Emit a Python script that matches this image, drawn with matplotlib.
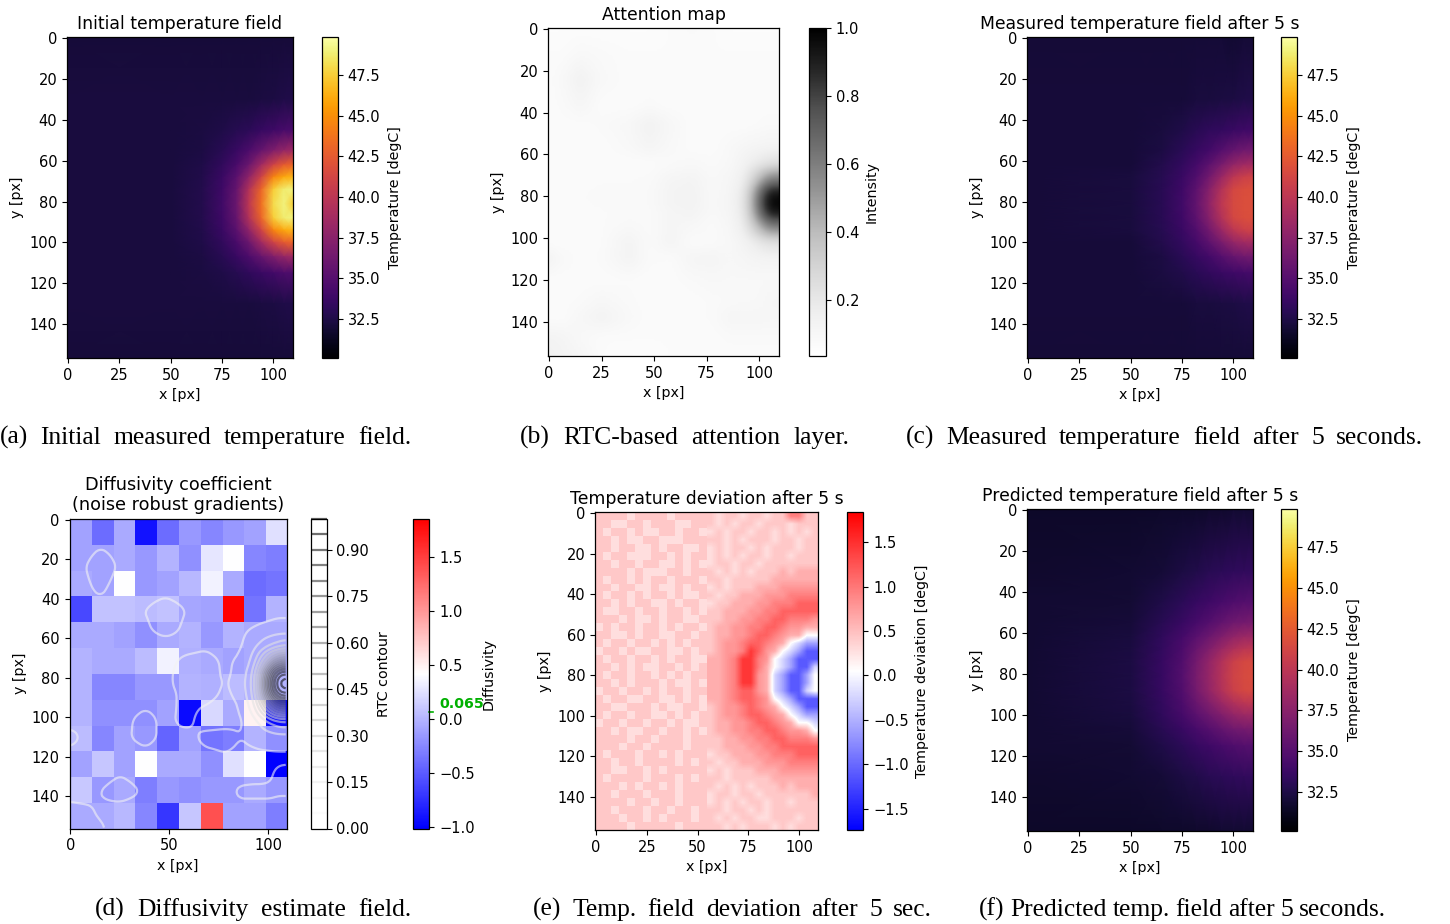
import matplotlib

matplotlib.use("Agg")
import matplotlib.pyplot as plt
import numpy as np

WIDTH = 1450
HEIGHT = 924

# grid nodes (image pixels) shared by the three temperature fields
temp_x = [-0.5, 50, 65, 75, 82, 88, 94, 100, 105, 109.5]
temp_y = [-0.5, 30, 45, 55, 62, 68, 74, 81, 88, 94, 100, 107, 115, 130, 156.5]

initial_temp = [
    [32.1, 32.1, 32.1, 32.1, 32.1, 32.1, 32.1, 32.1, 32.1, 32.1],
    [32.2, 32.2, 32.2, 32.2, 32.2, 32.2, 32.3, 32.4, 32.5, 32.5],
    [32.2, 32.2, 32.3, 32.5, 32.8, 33.1, 33.5, 33.9, 34.3, 34.4],
    [32.2, 32.2, 32.4, 32.9, 33.6, 34.5, 35.8, 37.0, 38.0, 38.5],
    [32.2, 32.2, 32.5, 33.3, 34.4, 36.0, 38.6, 41.0, 42.5, 43.0],
    [32.2, 32.2, 32.6, 33.7, 35.2, 37.8, 41.0, 44.5, 46.0, 46.5],
    [32.2, 32.2, 32.7, 33.9, 35.8, 39.5, 43.0, 47.5, 48.8, 49.0],
    [32.2, 32.2, 32.7, 34.0, 36.0, 40.0, 43.5, 48.0, 49.0, 47.5],
    [32.2, 32.2, 32.7, 33.9, 35.8, 39.5, 43.0, 47.5, 48.8, 49.0],
    [32.2, 32.2, 32.6, 33.7, 35.2, 37.8, 41.0, 44.5, 46.0, 46.5],
    [32.2, 32.2, 32.5, 33.3, 34.4, 36.0, 38.6, 41.0, 42.5, 43.0],
    [32.2, 32.2, 32.4, 32.9, 33.6, 34.5, 35.8, 37.0, 38.0, 38.5],
    [32.2, 32.2, 32.3, 32.5, 32.8, 33.2, 33.7, 34.1, 34.5, 34.6],
    [32.2, 32.2, 32.2, 32.2, 32.2, 32.2, 32.3, 32.4, 32.5, 32.5],
    [32.1, 32.1, 32.1, 32.1, 32.1, 32.1, 32.1, 32.1, 32.1, 32.1],
]

measured_temp = [
    [32.0, 32.0, 32.0, 32.0, 32.0, 32.0, 32.0, 31.8, 32.0, 32.0],
    [32.1, 32.1, 32.1, 32.1, 32.2, 32.2, 32.3, 32.4, 32.5, 32.5],
    [32.1, 32.1, 32.2, 32.5, 32.9, 33.2, 33.4, 33.7, 33.9, 34.0],
    [32.1, 32.1, 32.4, 33.0, 33.5, 34.1, 34.9, 35.8, 36.2, 36.4],
    [32.1, 32.1, 32.7, 33.4, 34.2, 35.3, 36.6, 38.0, 38.6, 38.8],
    [32.1, 32.2, 32.8, 33.7, 34.8, 36.3, 38.2, 40.0, 40.8, 41.0],
    [32.1, 32.2, 32.9, 33.9, 35.4, 37.2, 39.5, 41.3, 41.7, 41.8],
    [32.1, 32.2, 32.9, 34.0, 35.6, 37.7, 40.0, 41.5, 41.8, 41.8],
    [32.1, 32.2, 32.9, 33.9, 35.4, 37.2, 39.5, 41.3, 41.7, 41.8],
    [32.1, 32.2, 32.8, 33.7, 34.8, 36.3, 38.2, 40.0, 40.8, 41.0],
    [32.1, 32.1, 32.7, 33.4, 34.2, 35.3, 36.6, 38.0, 38.6, 38.8],
    [32.1, 32.1, 32.4, 33.0, 33.5, 34.1, 34.9, 35.8, 36.2, 36.4],
    [32.1, 32.1, 32.3, 32.6, 33.0, 33.3, 33.6, 33.9, 34.1, 34.2],
    [32.1, 32.1, 32.1, 32.1, 32.2, 32.2, 32.3, 32.4, 32.5, 32.5],
    [32.0, 32.0, 32.0, 32.0, 32.0, 32.0, 32.0, 32.0, 32.0, 32.0],
]

predicted_temp = [
    [31.5, 31.5, 31.6, 31.6, 31.6, 31.7, 31.7, 31.8, 31.8, 31.8],
    [31.7, 31.8, 32.0, 32.4, 32.6, 32.9, 33.1, 33.2, 33.3, 33.3],
    [31.8, 31.9, 32.5, 33.1, 33.5, 33.9, 34.3, 34.7, 34.9, 35.0],
    [31.8, 32.1, 32.9, 33.6, 34.3, 34.9, 35.6, 36.2, 36.5, 36.6],
    [31.8, 32.2, 33.2, 34.2, 35.2, 36.1, 37.0, 37.9, 38.4, 38.5],
    [31.8, 32.3, 33.4, 34.5, 35.9, 37.1, 38.3, 39.4, 40.0, 40.2],
    [31.8, 32.4, 33.5, 34.8, 36.5, 37.9, 39.4, 40.8, 41.4, 41.5],
    [31.8, 32.4, 33.5, 34.9, 36.7, 38.1, 39.6, 41.0, 41.5, 41.6],
    [31.8, 32.4, 33.5, 34.8, 36.5, 37.9, 39.4, 40.8, 41.4, 41.5],
    [31.8, 32.3, 33.4, 34.5, 35.9, 37.1, 38.3, 39.4, 40.0, 40.2],
    [31.8, 32.2, 33.2, 34.2, 35.2, 36.1, 37.0, 37.9, 38.4, 38.5],
    [31.8, 32.1, 32.9, 33.6, 34.3, 34.9, 35.6, 36.2, 36.5, 36.6],
    [31.8, 31.9, 32.5, 33.1, 33.5, 33.9, 34.3, 34.7, 34.9, 35.0],
    [31.7, 31.8, 32.0, 32.4, 32.6, 32.9, 33.1, 33.2, 33.3, 33.3],
    [31.5, 31.5, 31.6, 31.6, 31.7, 31.7, 31.8, 31.8, 31.8, 31.8],
]

# attention / RTC field
rtc_x = [-0.5, 6, 15, 25, 38, 48, 58, 68, 78, 86, 92, 97, 101, 105, 109.5]
rtc_y = [-0.5, 12, 24, 36, 46, 56, 64, 72, 78, 83, 88, 94, 102, 110, 120, 130, 138, 148, 156.5]
rtc = [
    [.06, .06, .06, .06, .06, .06, .07, .08, .07, .06, .06, .06, .06, .06, .06],
    [.07, .07, .09, .08, .07, .07, .07, .07, .07, .07, .07, .07, .07, .07, .07],
    [.07, .09, .14, .09, .07, .07, .07, .07, .07, .07, .07, .07, .07, .07, .07],
    [.07, .08, .11, .07, .07, .08, .07, .07, .07, .07, .07, .07, .07, .07, .07],
    [.07, .07, .07, .08, .10, .14, .10, .07, .07, .07, .07, .075, .08, .085, .085],
    [.07, .07, .07, .07, .09, .12, .09, .07, .07, .09, .105, .115, .12, .125, .125],
    [.07, .07, .07, .07, .07, .07, .08, .09, .08, .095, .13, .17, .20, .23, .25],
    [.07, .07, .07, .075, .075, .08, .115, .125, .09, .11, .16, .30, .45, .58, .62],
    [.07, .07, .075, .08, .08, .085, .125, .135, .09, .115, .19, .42, .68, .88, .92],
    [.07, .07, .075, .08, .08, .085, .125, .135, .095, .12, .20, .45, .75, .95, 1.0],
    [.07, .07, .07, .075, .08, .08, .115, .125, .09, .115, .19, .42, .68, .88, .92],
    [.07, .07, .07, .075, .09, .08, .115, .10, .08, .105, .17, .32, .47, .60, .63],
    [.07, .07, .07, .075, .125, .08, .12, .075, .08, .095, .125, .17, .21, .24, .25],
    [.13, .09, .07, .08, .125, .08, .075, .115, .12, .10, .11, .12, .125, .13, .13],
    [.07, .07, .07, .07, .075, .07, .07, .085, .095, .09, .09, .09, .09, .09, .09],
    [.07, .07, .08, .10, .08, .07, .07, .07, .08, .085, .09, .09, .095, .11, .115],
    [.07, .07, .10, .13, .09, .07, .07, .07, .08, .11, .11, .11, .11, .105, .105],
    [.13, .12, .09, .07, .07, .07, .07, .07, .07, .08, .08, .08, .08, .08, .08],
    [.14, .13, .11, .07, .06, .06, .07, .07, .07, .07, .07, .07, .07, .07, .07],
]

# diffusivity blocks, 12 rows by 10 columns
diffusivity = [
    [-0.10, -0.40, -0.05, -0.90, -0.40, -0.15, -0.25, -0.15, -0.10, 0.25],
    [-0.10, -0.10, -0.05, -0.15, 0.00, -0.20, 0.28, 0.42, -0.25, -0.30],
    [-0.05, -0.10, 0.42, -0.15, -0.10, 0.03, 0.35, -0.05, -0.40, -0.35],
    [-0.60, 0.08, 0.08, 0.05, 0.08, -0.08, -0.10, 1.85, -0.35, 0.00],
    [-0.05, -0.05, -0.10, -0.20, -0.05, 0.00, -0.15, 0.00, -0.05, -0.05],
    [0.00, -0.05, -0.05, 0.05, 0.35, -0.02, -0.05, -0.10, -0.05, -0.05],
    [0.00, -0.25, -0.25, -0.15, -0.15, 0.00, -0.02, 0.05, 0.00, 0.00],
    [0.00, -0.20, -0.20, -0.20, -0.10, -0.95, 0.20, -0.05, 0.50, -0.95],
    [0.05, -0.25, -0.10, -0.15, -0.45, -0.10, -0.35, -0.30, 0.00, -0.20],
    [-0.10, 0.10, -0.10, 0.42, -0.05, -0.05, -0.20, 0.25, 0.42, -1.00],
    [0.12, -0.15, -0.05, -0.30, -0.15, -0.20, -0.15, -0.15, -0.05, -0.15],
    [-0.05, -0.05, 0.03, -0.25, -0.70, 0.10, 1.40, -0.10, -0.10, -0.30],
]

# deviation field, coded by level, 40 rows by 28 columns
dev_codes = "abcd.o12345"
dev_levels = [-1.1, -0.6, -0.25, 0.05, 0.28, 0.44, 0.62, 0.78, 0.95, 1.15, 1.45]
dev_rows = [
    "oooo.oooo.oooo" + "o.oo.oo.oo33oo",
    "oo..oo.ooo..oo" + "o.o.oo.ooo.ooo",
    "o.oo.o..oo.oo." + ".o.oo.oo.o.o.o",
    "oo.o..oo...ooo" + "oo.o.ooo.oo.oo",
    "oo.oo..o.oo..o" + ".o.oo.o.ooo.oo",
    "o.oo...oo.o.oo" + ".o.o.oo.oo.ooo",
    "oo.oo.oo..o.o." + ".oo.oo.ooooooo",
    "oooo.o...oo.oo" + "o.o.o.ooo1o111",
    "o.oo.o.oo.ooo." + "oo.ooooo111111",
    "oo.oo..o..o.oo" + ".o.ooo11122222",
    "o.oo.o.oo.o..o" + "o.oo1112223333",
    "oo.o.oo..o.oo." + ".oo11122333444",
    "o..oo.oo.oo.o." + "oo111223344444",
    "ooo.o..o.oo..o" + "oo112233443332",
    ".o.oo.oo.o.oo." + "o1122334432211",
    "oo..o.oo..oo.o" + "o11223443211dd",
    "o.oo.oo.o.o.oo" + "o122344321dcbb",
    ".oo.o..oo..o.o" + "o12235421dcbaa",
    "o.oo.oo.o.oo.." + "11235532dcbaaa",
    "oo.o.o..oo.o.o" + "11235531dcbaac",
    "o.oo.oo.o.o.oo" + "11235521cbaabd",
    "oo.o.ooo.o..o." + "11235521cbaabd",
    ".oo.oo.o.oo.oo" + "11234421cbaacd",
    "o.oo..oo..o.o." + "11234432dcbaaa",
    "oo..ooo.o..oo." + "o12234321dcbaa",
    "o.oo.oo..o.o.o" + "o122344321dcbb",
    ".oo.oo.oo.o..o" + "o1122344321ddc",
    "oo.o..oo.oo.o." + "o112233443221d",
    "oooo.oo.ooo.oo" + "oo112233443332",
    "ooo.oo.oooo.oo" + "oo111223344444",
    "o.ooo.oo.o.ooo" + ".oo11122333444",
    "oo.oo.oooo.o.o" + "o.oo1112223333",
    "oo..oo.o.ooooo" + ".o.ooo11122222",
    "o.oooo.ooo.o.o" + "oo.ooooo111111",
    "ooo.o.oo.o.ooo" + "o.o.o.ooo1o111",
    "oo.ooo.ooo.ooo" + ".oo.oo.oooooo1",
    "oooo.oo.oo.ooo" + ".o.o.oo.oo.ooo",
    "oo.ooo.oo.oo.o" + "oo.oo.o.oooooo",
    "ooo.oo.o.ooo.o" + "o.o.oo..ooo.oo",
    "oooo.ooooo.ooo" + "oo.o.ooo.o.ooo",
]

temp_ticks = [32.5, 35.0, 37.5, 40.0, 42.5, 45.0, 47.5]
attention_ticks = [0.2, 0.4, 0.6, 0.8, 1.0]
rtc_ticks = [0.0, 0.15, 0.30, 0.45, 0.60, 0.75, 0.90]
diff_ticks = [-1.0, -0.5, 0.0, 0.5, 1.0, 1.5]
dev_ticks = [-1.5, -1.0, -0.5, 0.0, 0.5, 1.0, 1.5]
x_ticks = [0, 25, 50, 75, 100]
y_ticks = [0, 20, 40, 60, 80, 100, 120, 140]
diff_mean = 0.065

captions = [
    ("(a) Initial measured temperature field.", 0, 411, 444),
    ("(b) RTC-based attention layer.", 520, 849, 444),
    ("(c) Measured temperature field after 5 seconds.", 906, 1423, 444),
    ("(d) Diffusivity estimate field.", 95, 411, 916),
    ("(e) Temp. field deviation after 5 sec.", 533, 932, 916),
    ("(f) Predicted temp. field after 5 seconds.", 979, 1386, 916),
]

plt.rcParams["font.size"] = 10.5
plt.rcParams["axes.labelsize"] = 10.3
plt.rcParams["axes.titlesize"] = 12.4
plt.rcParams["axes.linewidth"] = 0.9

fig = plt.figure(figsize=(WIDTH / 100, HEIGHT / 100), dpi=100)


def px_axes(x0, x1, y0, y1):
    return fig.add_axes([x0 / WIDTH, 1 - y1 / HEIGHT, (x1 - x0) / WIDTH, (y1 - y0) / HEIGHT])


def style_image(ax, title, xticks=x_ticks):
    ax.set_xlim(-0.5, 109.5)
    ax.set_ylim(156.5, -0.5)
    ax.set_xticks(xticks)
    ax.set_yticks(y_ticks)
    ax.set_xlabel("x [px]", labelpad=4)
    ax.set_ylabel("y [px]", labelpad=3.5)
    ax.set_title(title, pad=6)


def add_cbar(mappable, box, label, ticks, label_x):
    cax = px_axes(*box)
    cb = fig.colorbar(mappable, cax=cax)
    cb.set_ticks(ticks)
    cb.set_label(label)
    cax.yaxis.set_label_coords(label_x, 0.5)
    cax.yaxis.label.set_va("center")
    return cb


def refine_rtc():
    # pixel grid and a light blur so that the attention field renders smooth
    xf = np.arange(0, 110)
    yf = np.arange(0, 157)
    rows = np.array([np.interp(xf, rtc_x, r) for r in rtc])
    fine = np.array([np.interp(yf, rtc_y, c) for c in rows.T]).T
    kernel = np.ones(5) / 5
    for axis in (0, 1):
        pad = [(0, 0), (0, 0)]
        pad[axis] = (2, 2)
        padded = np.pad(fine, pad, mode="edge")
        fine = np.apply_along_axis(lambda v: np.convolve(v, kernel, mode="valid"), axis, padded)
    return xf, yf, fine


def temp_panel(field, box, cbox, title, label_x=4.55):
    ax = px_axes(*box)
    mesh = ax.pcolormesh(temp_x, temp_y, field, shading="gouraud", cmap="inferno", vmin=30.1, vmax=49.84)
    style_image(ax, title)
    add_cbar(mesh, cbox, "Temperature [degC]", temp_ticks, label_x)


temp_panel(initial_temp, (67, 293, 37, 358), (322, 338, 37, 358), "Initial temperature field")
temp_panel(measured_temp, (1027, 1253, 37, 358), (1281, 1297, 37, 358), "Measured temperature field after 5 s")
temp_panel(predicted_temp, (1027, 1253, 509, 831), (1281, 1297, 509, 831), "Predicted temperature field after 5 s")

rtc_fx, rtc_fy, rtc_fine = refine_rtc()

# attention map
ax_b = px_axes(548, 779, 28, 356)
mesh_b = ax_b.imshow(
    rtc_fine,
    cmap="Greys",
    vmin=0.035,
    vmax=1.0,
    extent=(-0.5, 109.5, 156.5, -0.5),
    aspect="auto",
    interpolation="bilinear",
)
style_image(ax_b, "Attention map")
add_cbar(mesh_b, (809, 826, 28, 356), "Intensity", attention_ticks, 3.7)

# diffusivity with RTC contour on top
ax_d = px_axes(69.5, 286.7, 519, 828.5)
img_d = ax_d.imshow(
    diffusivity,
    cmap="bwr",
    vmin=-1.01,
    vmax=1.855,
    extent=(-0.5, 109.5, 156.5, -0.5),
    aspect="auto",
    interpolation="nearest",
)
cs = ax_d.contour(rtc_fx, rtc_fy, rtc_fine, levels=np.arange(0, 1.05, 0.05), cmap="Greys", linewidths=1.6, alpha=0.6)
style_image(ax_d, "", xticks=[0, 50, 100])
ax_d.set_title("Diffusivity coefficient\n(noise robust gradients)", pad=6.5, linespacing=1.13, fontsize=12.7)
add_cbar(cs, (310.7, 326.7, 519, 828.5), "RTC contour", rtc_ticks, 4.55)
cb_d = add_cbar(img_d, (413.3, 429.3, 519, 828.5), "Diffusivity", diff_ticks, 4.7)
cb_d.ax.plot([1.0, 1.2], [diff_mean, diff_mean], color="#00b000", lw=1.2, transform=cb_d.ax.get_yaxis_transform(), clip_on=False)
cb_d.ax.text(1.6, diff_mean + 0.01, f"{diff_mean:.3f}", color="#00b000", fontsize=10.2, fontweight="bold", va="bottom", ha="left", transform=cb_d.ax.get_yaxis_transform())

# temperature deviation: blocky patches on the left, smoother rings on the right
dev_field = np.array([[dev_levels[dev_codes.index(c)] for c in row] for row in dev_rows])
split = 14
split_x = -0.5 + split * 110 / dev_field.shape[1]
ax_e = px_axes(595, 818.3, 512, 830)
img_e = ax_e.imshow(
    dev_field[:, :split],
    cmap="bwr",
    vmin=-1.74,
    vmax=1.84,
    extent=(-0.5, split_x, 156.5, -0.5),
    aspect="auto",
    interpolation="nearest",
)
ax_e.imshow(
    dev_field[:, split:],
    cmap="bwr",
    vmin=-1.74,
    vmax=1.84,
    extent=(split_x, 109.5, 156.5, -0.5),
    aspect="auto",
    interpolation="bilinear",
)
style_image(ax_e, "Temperature deviation after 5 s")
add_cbar(img_e, (847.3, 863.3, 512, 830), "Temperature deviation [degC]", dev_ticks, 4.65)

# captions are justified in the paper, so words are spread over the column
renderer = fig.canvas.get_renderer()
for caption, left, right, base in captions:
    words = caption.split(" ")
    texts = [
        fig.text(0, 1 - base / HEIGHT, w, family="Liberation Serif", fontsize=18.4, va="baseline", ha="left")
        for w in words
    ]
    widths = [t.get_window_extent(renderer).width for t in texts]
    gap = (right - left - sum(widths)) / (len(words) - 1)
    pos = left
    for t, w in zip(texts, widths):
        t.set_x(pos / WIDTH)
        pos += w + gap

fig.savefig("out.png", dpi=100)
